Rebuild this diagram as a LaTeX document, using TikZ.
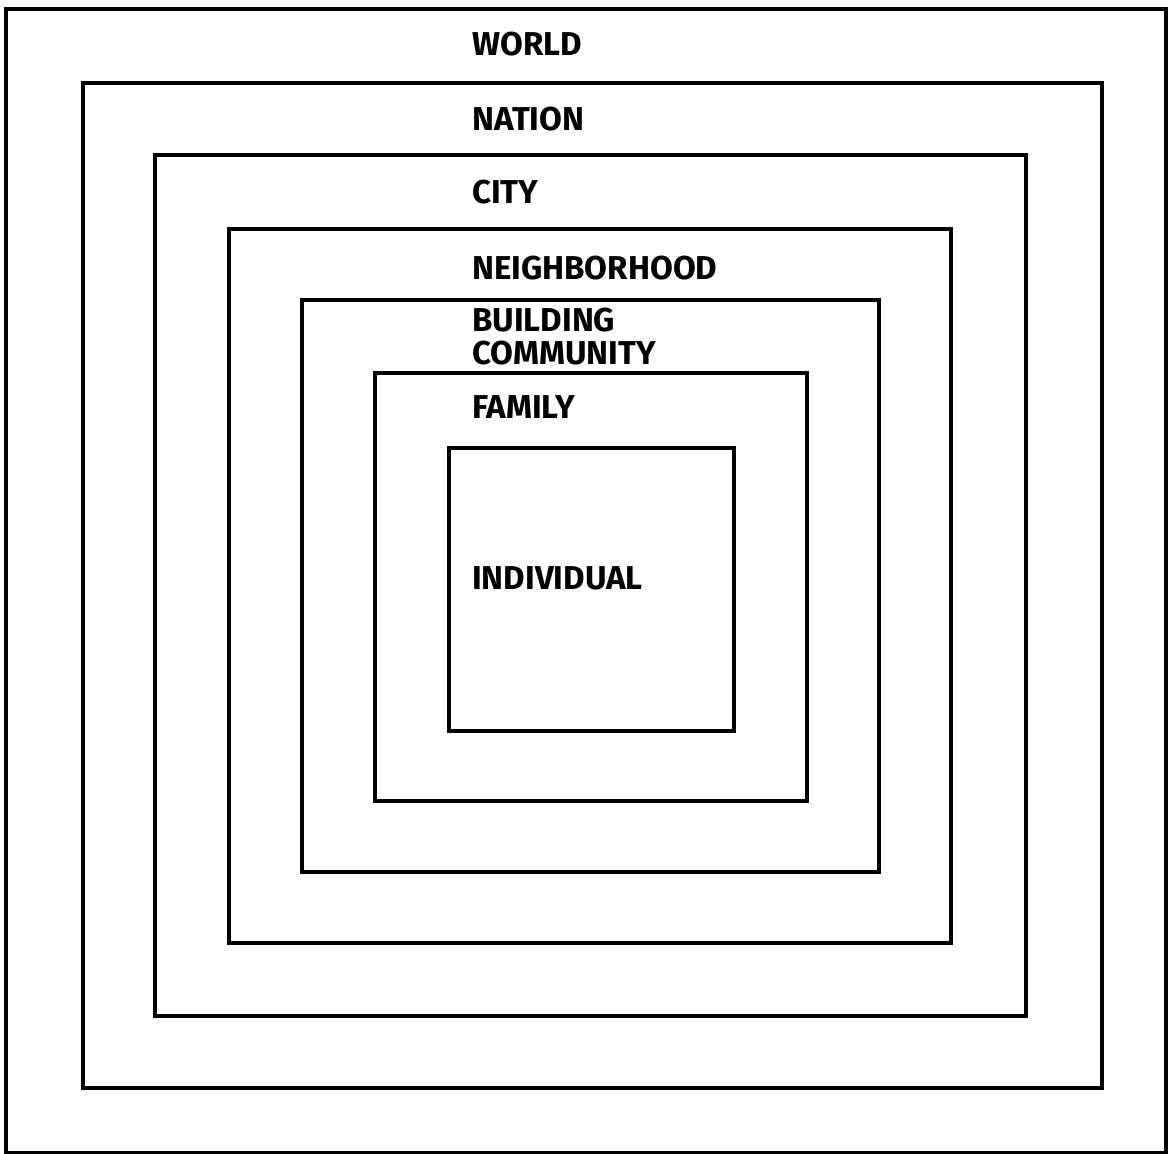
\documentclass[tikz,border=0pt]{standalone}
\usepackage{fontspec}
\setmainfont{Fira Sans}
\usetikzlibrary{positioning}

\begin{document}
\begin{tikzpicture}[
    x=0.025cm, y=-0.025cm,
    ring/.style={draw, line width=2.4pt, line join=miter},
    lbl/.style={anchor=west, inner sep=0pt, align=left,
                font=\fontsize{23.5}{23.5}\selectfont\bfseries}
]
    \useasboundingbox (0,0) rectangle (1171,1154);

    \draw[ring] (6,9)     rectangle (1166,1153);
    \draw[ring] (83,83)   rectangle (1102,1088);
    \draw[ring] (155,155) rectangle (1026,1016);
    \draw[ring] (229,229) rectangle (951,943);
    \draw[ring] (302,300) rectangle (879,872);
    \draw[ring] (375,373) rectangle (807,801);
    \draw[ring] (449,448) rectangle (734,731);

    \node[lbl] (world)  at (472,44)  {WORLD};
    \node[lbl] (nation) at (472,119) {NATION};
    \node[lbl] (city)   at (472,192) {CITY};
    \node[lbl] (hood)   at (472,268) {NEIGHBORHOOD};
    \node[lbl] (bldg)   at (472,337) {BUILDING\\COMMUNITY};
    \node[lbl] (family) at (472,407) {FAMILY};
    \node[lbl] (indiv)  at (472,578) {INDIVIDUAL};
\end{tikzpicture}
\end{document}
